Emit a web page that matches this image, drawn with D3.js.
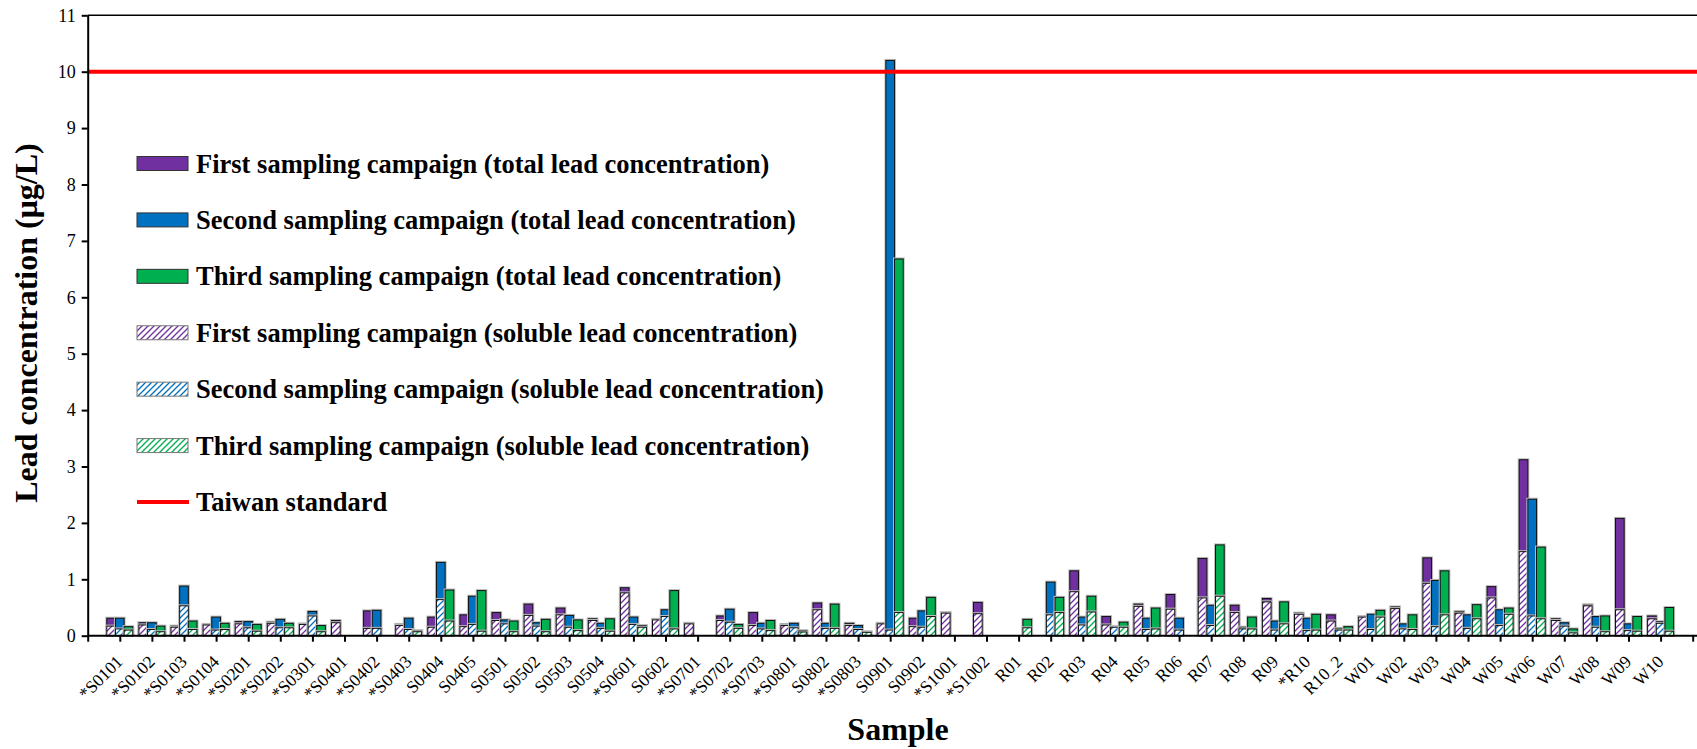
<!DOCTYPE html>
<html><head><meta charset="utf-8">
<script src="https://cdn.jsdelivr.net/npm/d3@7"></script>
<style>
html,body{margin:0;padding:0;background:#fff;}
svg{display:block;}
</style></head>
<body>
<svg id="chart" width="1697" height="749"></svg>
<script>
const categories = ["*S0101","*S0102","*S0103","*S0104","*S0201","*S0202","*S0301","*S0401","*S0402","*S0403","S0404","S0405","S0501","S0502","S0503","S0504","*S0601","S0602","*S0701","*S0702","*S0703","*S0801","S0802","*S0803","S0901","S0902","*S1001","*S1002","R01","R02","R03","R04","R05","R06","R07","R08","R09","*R10","R10_2","W01","W02","W03","W04","W05","W06","W07","W08","W09","W10"];

const total1 = [0.31,0.23,0.17,0.20,0.25,0.24,0.21,0.27,0.44,0.20,0.33,0.37,0.41,0.56,0.49,0.30,0.85,0.29,0.22,0.35,0.41,0.20,0.58,0.22,0.22,0.31,0.41,0.59,null,null,1.15,0.34,0.56,0.73,1.37,0.54,0.66,0.40,0.37,0.34,0.51,1.38,0.43,0.87,3.12,0.30,0.55,2.08,0.35];
const soluble1 = [0.17,0.19,0.15,0.19,0.21,0.22,0.20,0.23,0.13,0.18,0.15,0.16,0.27,0.36,0.37,0.27,0.76,0.28,0.21,0.27,0.18,0.18,0.46,0.18,0.21,0.16,0.40,0.39,null,null,0.78,0.19,0.52,0.47,0.67,0.41,0.60,0.38,0.26,0.33,0.48,0.93,0.40,0.67,1.49,0.27,0.53,0.46,0.30];
const total2 = [0.31,0.23,0.88,0.33,0.25,0.29,0.43,null,0.45,0.31,1.30,0.70,0.28,0.23,0.36,0.22,0.33,0.46,null,0.47,0.22,0.22,0.22,0.18,10.2,0.44,null,null,null,0.95,0.33,0.16,0.31,0.31,0.54,0.15,0.26,0.31,0.13,0.38,0.21,0.98,0.37,0.46,2.42,0.23,0.34,0.21,0.25];
const soluble2 = [0.12,0.11,0.53,0.10,0.14,0.14,0.35,null,0.13,0.11,0.64,0.20,0.21,0.17,0.15,0.13,0.20,0.34,null,0.24,0.12,0.14,0.13,0.11,0.10,0.15,null,null,null,0.37,0.19,0.15,0.11,0.10,0.18,0.12,0.10,0.09,0.10,0.11,0.12,0.16,0.13,0.18,0.35,0.17,0.15,0.09,0.22];
const total3 = [0.16,0.17,0.26,0.22,0.20,0.22,0.18,null,null,0.09,0.81,0.80,0.26,0.29,0.28,0.30,0.18,0.80,null,0.20,0.27,0.09,0.56,0.07,6.68,0.68,null,null,0.29,0.68,0.70,0.24,0.49,null,1.61,0.33,0.60,0.38,0.16,0.45,0.37,1.15,0.55,0.49,1.57,0.12,0.35,0.34,0.50];
const soluble3 = [0.10,0.07,0.11,0.11,0.08,0.14,0.07,null,null,0.07,0.26,0.08,0.07,0.07,0.09,0.08,0.15,0.12,null,0.13,0.09,0.065,0.13,0.06,0.41,0.34,null,null,0.14,0.41,0.42,0.15,0.12,null,0.70,0.12,0.21,0.10,0.10,0.33,0.11,0.37,0.30,0.38,0.30,0.05,0.07,0.08,0.08];

const yTicks = [0,1,2,3,4,5,6,7,8,9,10,11];
const standardValue = 10;

const seriesNames = ["First sampling campaign (total lead concentration)","Second sampling campaign (total lead concentration)","Third sampling campaign (total lead concentration)","First sampling campaign (soluble lead concentration)","Second sampling campaign (soluble lead concentration)","Third sampling campaign (soluble lead concentration)","Taiwan standard"];
const colors = ["#7030A0","#0070C0","#00B050"];

(function () {
const svg = d3.select("#chart");
const FONT = "'Liberation Serif','Times New Roman',serif";

const pLeft = 87.7, pRight = 1692.7, pTop = 15.3, pBottom = 635.7;
const x = d3.scaleLinear().domain([0, categories.length + 1]).range([pLeft, pRight]);
const y = d3.scaleLinear().domain([0, 11]).range([pBottom, pTop]);
const step = x(1) - x(0);
const bw = step * 0.27;

const defs = svg.append("defs");
colors.forEach((c, i) => {
  const p = defs.append("pattern").attr("id", "hatch" + i)
    .attr("patternUnits", "userSpaceOnUse").attr("width", 6).attr("height", 6);
  p.append("rect").attr("width", 6).attr("height", 6).attr("fill", "#fff");
  p.append("path").attr("d", "M0,6 L6,0 M-3,3 L3,-3 M3,9 L9,3")
    .attr("stroke", c).attr("stroke-width", 1.3);
});

const totals = [total1, total2, total3];
const solubles = [soluble1, soluble2, soluble3];

const gBars = svg.append("g");
function drawBar(cx, v, fill) {
  const x0 = cx - bw / 2, y0 = y(v), h = y(0) - y(v);
  gBars.append("rect").attr("x", x0 - 0.5).attr("y", y0 - 0.5).attr("width", bw + 1).attr("height", h + 0.5)
    .attr("fill", "none").attr("stroke", "#bdbdbd").attr("stroke-width", 2);
  gBars.append("rect").attr("x", x0).attr("y", y0).attr("width", bw).attr("height", h)
    .attr("fill", fill).attr("stroke", "#111").attr("stroke-width", 1);
}
categories.forEach((c, i) => {
  for (let s = 0; s < 3; s++) {
    const cx = x(i + 1) + (s - 1) * bw;
    if (totals[s][i] != null) drawBar(cx, totals[s][i], colors[s]);
    if (solubles[s][i] != null) drawBar(cx, solubles[s][i], "url(#hatch" + s + ")");
  }
});

svg.append("line").attr("x1", pLeft).attr("x2", 1697).attr("y1", pTop).attr("y2", pTop)
  .attr("stroke", "#000").attr("stroke-width", 1.5);

svg.append("line").attr("x1", pLeft).attr("x2", 1697).attr("y1", y(standardValue)).attr("y2", y(standardValue))
  .attr("stroke", "#FF0000").attr("stroke-width", 4);

const xAxis = svg.append("g").attr("transform", `translate(0,${pBottom})`)
  .call(d3.axisBottom(x).tickValues(d3.range(0, categories.length + 2)).tickSize(6).tickSizeOuter(0)
    .tickFormat(i => categories[i - 1] || ""));
xAxis.select(".domain").attr("stroke-width", 2).attr("d", `M${pLeft},0H1697`);
xAxis.selectAll(".tick line").attr("stroke-width", 2);
xAxis.selectAll("text").attr("font-family", FONT).attr("font-size", 17.5).attr("fill", "#000")
  .attr("text-anchor", "end").attr("dy", 0).attr("y", 0)
  .attr("transform", "translate(3.5,27) rotate(-45)");

const yAxis = svg.append("g").attr("transform", `translate(${pLeft},0)`)
  .call(d3.axisLeft(y).tickValues(yTicks).tickSize(6).tickSizeOuter(0));
yAxis.select(".domain").attr("stroke-width", 2);
yAxis.selectAll(".tick line").attr("stroke-width", 2);
yAxis.selectAll("text").attr("font-family", FONT).attr("font-size", 18).attr("fill", "#000").attr("x", -12);

svg.append("text").attr("transform", "translate(37,323) rotate(-90)").attr("text-anchor", "middle")
  .attr("font-family", FONT).attr("font-weight", "bold").attr("font-size", 32).text("Lead concentration (μg/L)");
svg.append("text").attr("x", 898).attr("y", 740).attr("text-anchor", "middle")
  .attr("font-family", FONT).attr("font-weight", "bold").attr("font-size", 32).text("Sample");

const legendY = d3.scaleLinear().domain([0, 6]).range([163.5, 502]);
seriesNames.forEach((name, i) => {
  const cy = legendY(i);
  if (i < 3) {
    svg.append("rect").attr("x", 137).attr("y", cy - 7).attr("width", 51).attr("height", 14)
      .attr("fill", colors[i]).attr("stroke", "#333").attr("stroke-width", 1);
  } else if (i < 6) {
    svg.append("rect").attr("x", 137).attr("y", cy - 7).attr("width", 51).attr("height", 14)
      .attr("fill", "url(#hatch" + (i - 3) + ")").attr("stroke", "#777").attr("stroke-width", 1);
  } else {
    svg.append("line").attr("x1", 137).attr("x2", 189).attr("y1", cy).attr("y2", cy)
      .attr("stroke", "#FF0000").attr("stroke-width", 4);
  }
  svg.append("text").attr("x", 196).attr("y", cy + 9).attr("font-family", FONT).attr("font-weight", "bold")
    .attr("font-size", 26.5).text(name);
});
})();
</script>
</body></html>
